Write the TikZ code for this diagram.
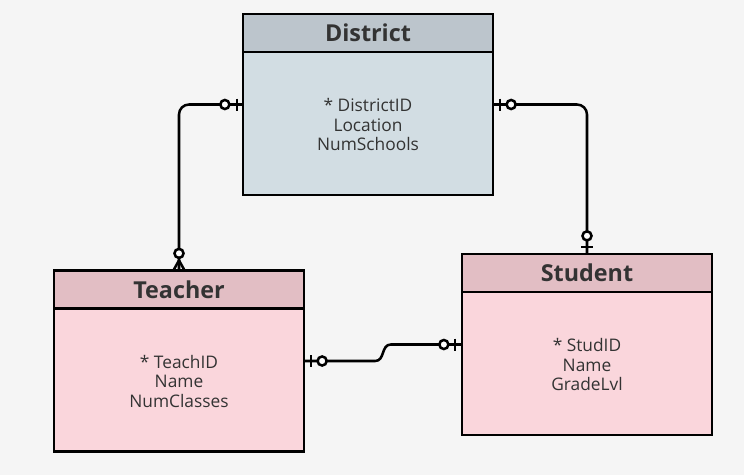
\documentclass[tikz,border=0pt]{standalone}
\usepackage{fontspec}
\setmainfont{Open Sans}
\usetikzlibrary{calc}
\definecolor{bg}{HTML}{F5F5F5}
\definecolor{dhead}{HTML}{BCC5CC}
\definecolor{dbody}{HTML}{D2DDE3}
\definecolor{phead}{HTML}{E2BEC4}
\definecolor{pbody}{HTML}{FAD6DC}
\definecolor{ink}{HTML}{333333}
\begin{document}
\begin{tikzpicture}[x=0.75pt,y=-0.75pt,
  entity/.style={draw=black, line width=1.7pt, minimum width=187.5pt, minimum height=135.75pt, inner sep=0pt},
  headbox/.style={draw=black, line width=1.7pt, minimum width=187.5pt, minimum height=28.5pt, inner sep=0pt, font=\fontsize{17.5}{20}\selectfont\bfseries, text=ink},
  attrs/.style={align=center, inner sep=0pt, font=\fontsize{13}{14.6}\selectfont, text=ink},
  rel/.style={line width=1.9pt, draw=black},
  roundbend/.style={rounded corners=7.5pt},
  ermk/.style={line width=1.9pt, draw=black},
  ring/.style={line width=1.9pt, draw=black, fill=white}
]
\fill[bg] (0,0) rectangle (744,475);
\useasboundingbox (0,0) rectangle (744,475);

% District
\node[entity, fill=dbody] (district) at (368,104.5) {};
\node[headbox, fill=dhead, anchor=north] (dhd) at (district.north) {District};
\node[attrs] (dat) at ($(district.south)!0.5!(dhd.south)$) {* DistrictID\\Location\\NumSchools};

% Teacher
\node[entity, fill=pbody] (teacher) at (179,361) {};
\node[headbox, fill=phead, anchor=north] (thd) at (teacher.north) {Teacher};
\node[attrs] (tat) at ($(teacher.south)!0.5!(thd.south)$) {* TeachID\\Name\\NumClasses};

% Student
\node[entity, fill=pbody] (student) at (587,344.5) {};
\node[headbox, fill=phead, anchor=north] (shd) at (student.north) {Student};
\node[attrs] (sat) at ($(student.south)!0.5!(shd.south)$) {* StudID\\Name\\GradeLvl};

% connectors
\draw[rel, roundbend] (district.west) -| (teacher.north);
\draw[rel, roundbend] (district.east) -| (student.north);
\draw[rel] (teacher.east) -- ($(teacher.east)+(70,0)$)
  .. controls ($(teacher.east)+(80,0)$) and ($(student.west)+(-80,0)$) .. ($(student.west)+(-70,0)$)
  -- (student.west);

% District left: zero-or-one
\draw[ermk] ($(district.west)+(-5,-6)$) -- ($(district.west)+(-5,6)$);
\draw[ring] ($(district.west)+(-17,0)$) circle[radius=3.4pt];
% Teacher top: zero-or-many
\draw[ermk] ($(teacher.north)+(0,-9)$) -- ($(teacher.north)+(-5,0)$);
\draw[ermk] ($(teacher.north)+(0,-9)$) -- ($(teacher.north)+(5,0)$);
\draw[ring] ($(teacher.north)+(0,-16)$) circle[radius=3.4pt];
% District right: zero-or-one
\draw[ermk] ($(district.east)+(6,-6)$) -- ($(district.east)+(6,6)$);
\draw[ring] ($(district.east)+(17,0)$) circle[radius=3.4pt];
% Student top: zero-or-one
\draw[ermk] ($(student.north)+(-6,-6)$) -- ($(student.north)+(6,-6)$);
\draw[ring] ($(student.north)+(0,-17)$) circle[radius=3.4pt];
% Teacher right: zero-or-one
\draw[ermk] ($(teacher.east)+(6,-6)$) -- ($(teacher.east)+(6,6)$);
\draw[ring] ($(teacher.east)+(17,0)$) circle[radius=3.4pt];
% Student left: zero-or-one
\draw[ermk] ($(student.west)+(-6,-6)$) -- ($(student.west)+(-6,6)$);
\draw[ring] ($(student.west)+(-17,0)$) circle[radius=3.4pt];
\end{tikzpicture}
\end{document}
